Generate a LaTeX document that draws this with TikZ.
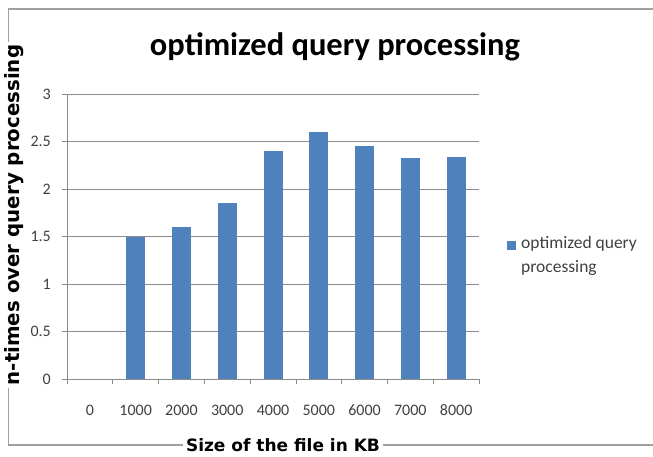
\documentclass[tikz,border=0pt]{standalone}
\usepackage{fontspec}
\setmainfont{Carlito}
\newfontfamily\axisfont{DejaVu Sans}
\definecolor{barblue}{HTML}{4F81BD}
\definecolor{gridgray}{HTML}{8C8C8C}
\definecolor{framegray}{HTML}{A0A0A0}
\definecolor{ticktext}{HTML}{404040}
\tikzset{
  framebox/.style={draw=framegray, line width=1.4pt},
  gridline/.style={draw=gridgray, line width=0.8pt},
  bar/.style={fill=barblue, draw=none},
  ticklabel/.style={font=\fontsize{16}{18}\selectfont, text=ticktext, inner sep=0pt},
  axistitle/.style={font=\axisfont\bfseries\fontsize{17}{19}\selectfont, fill=white, inner sep=3pt},
  charttitle/.style={font=\bfseries\fontsize{32.5}{36}\selectfont, inner sep=0pt},
  legendtext/.style={font=\fontsize{17.5}{24}\selectfont, text=ticktext, align=left, inner sep=0pt, anchor=north west}
}
\begin{document}
\begin{tikzpicture}[x=1pt, y=-1pt]
\useasboundingbox (0,0) rectangle (653,456);
% outer chart frame (open on the right)
\draw[framebox] (653,9) -- (8.5,9) -- (8.5,445) -- (653,445);
% title
\node[charttitle] (title) at (335,47) {optimized query processing};
% horizontal grid lines and y tick labels
\foreach \v [count=\k from 0] in {0,0.5,1,1.5,2,2.5,3} {
  \pgfmathsetmacro{\yy}{379-95*\v}
  \draw[gridline] (62,\yy) -- (479,\yy);
  \node[ticklabel, anchor=east] (ylab\k) at (51,\yy) {\v};
}
% y axis
\draw[gridline] (67,94) -- (67,379);
% x ticks
\foreach \i in {0,...,9} {
  \pgfmathsetmacro{\xx}{67+45.78*\i}
  \draw[gridline] (\xx,379) -- (\xx,384);
}
% bars and category labels
\foreach \lab/\val [count=\i from 0] in {0/0,1000/1.5,2000/1.6,3000/1.85,4000/2.4,5000/2.6,6000/2.45,7000/2.33,8000/2.34} {
  \pgfmathsetmacro{\cx}{67+45.78*(\i+0.5)}
  \pgfmathsetmacro{\top}{379-95*\val}
  \ifdim\val pt>0pt
    \fill[bar] (\cx-9.5,\top) rectangle (\cx+9.5,379);
  \fi
  \node[ticklabel] (xlab\i) at (\cx,410) {\lab};
}
% axis titles (white fill breaks the frame line)
\node[axistitle] (xtitle) at (283,445) {Size of the file in KB};
\node[axistitle, font=\axisfont\bfseries\fontsize{19.8}{22}\selectfont, rotate=90] (ytitle) at (14,215) {n-times over query processing};
% legend
\fill[bar] (507,241) rectangle (516,250) coordinate (legkey);
\node[legendtext] (legend) at (521,236) {optimized query\\processing};
\end{tikzpicture}
\end{document}
